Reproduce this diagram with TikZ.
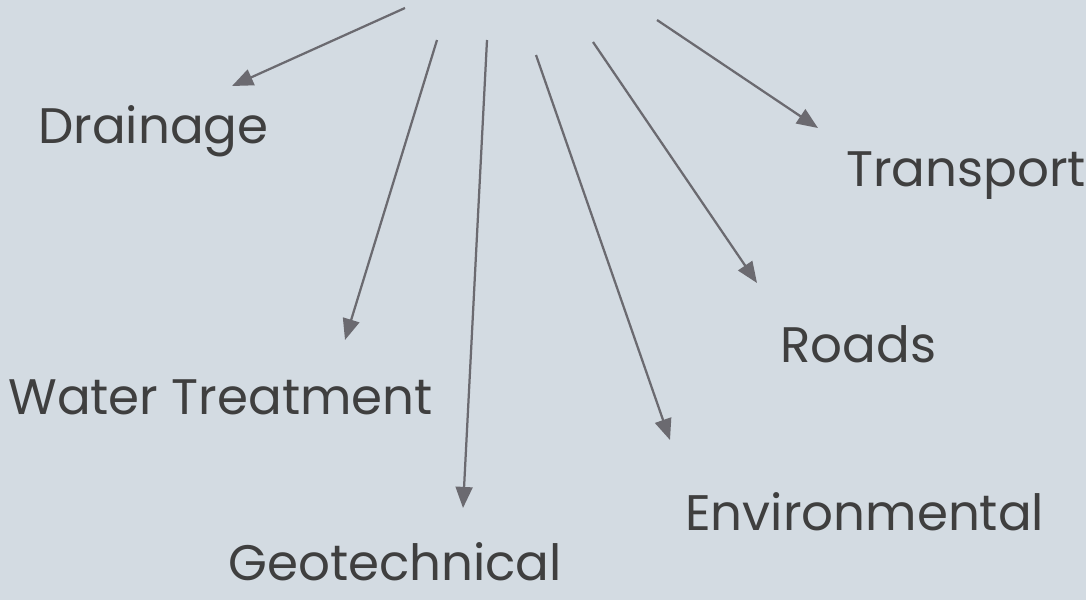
\documentclass[tikz,border=0pt]{standalone}
\usepackage{fontspec}
\setmainfont{Poppins}
\usepackage{tikz}
\usetikzlibrary{arrows.meta}
\definecolor{fond}{HTML}{D3DBE2}
\definecolor{fleche}{HTML}{6B6A70}
\definecolor{texte}{HTML}{3F3F3F}

\begin{document}
\begin{tikzpicture}[
      x=0.025cm,
      y=-0.025cm,
      domaine/.style={
        anchor=base west,
        inner sep=0pt,
        text=texte,
        font=\fontsize{35.5}{43}\selectfont
      },
      lien/.style={
        draw=fleche,
        line width=1.6pt,
        -{Triangle[length=15pt,width=12pt]}
      }
    ]
      \fill[fond] (0,0) rectangle (1086,600);
      \useasboundingbox (0,0) rectangle (1086,600);

      \node (d1) at (38,143) [domaine]{Drainage};
      \node (d2) at (8,414) [domaine]{Water Treatment};
      \node (d3) at (228,580) [domaine]{Geotechnical};
      \node (d4) at (685,530) [domaine]{Environmental};
      \node (d5) at (780,362) [domaine]{Roads};
      \node (d6) at (846,186) [domaine]{Transport};

      \coordinate (s1) at (405,8);
      \coordinate (s2) at (437,40);
      \coordinate (s3) at (487,40);
      \coordinate (s4) at (536,55);
      \coordinate (s5) at (593,42);
      \coordinate (s6) at (657,20);

      \coordinate (e1) at (232,86);
      \coordinate (e2) at (345,340);
      \coordinate (e3) at (463,508);
      \coordinate (e4) at (670,440);
      \coordinate (e5) at (757,283);
      \coordinate (e6) at (818,128);

      \draw[lien] (s1) -- (e1);
      \draw[lien] (s2) -- (e2);
      \draw[lien] (s3) -- (e3);
      \draw[lien] (s4) -- (e4);
      \draw[lien] (s5) -- (e5);
      \draw[lien] (s6) -- (e6);

    \end{tikzpicture}
\end{document}
